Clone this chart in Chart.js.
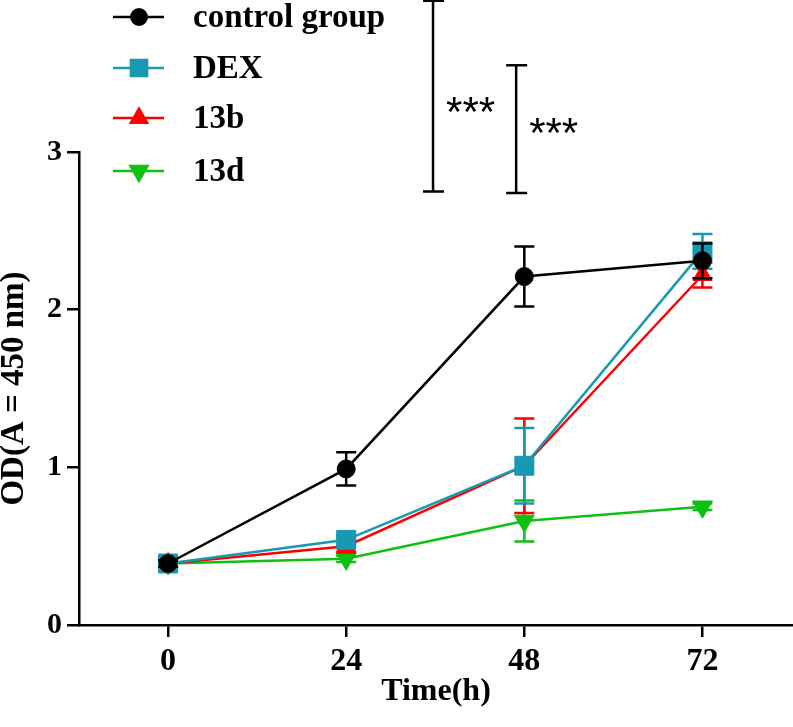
<!DOCTYPE html>
<html>
<head>
<meta charset="utf-8">
<script src="https://cdn.jsdelivr.net/npm/chart.js@4.4.1/dist/chart.umd.min.js"></script>
<style>
  html, body { margin: 0; padding: 0; background: #fff; }
</style>
</head>
<body>
<canvas id="odChart" width="793" height="727"></canvas>
<script>
const hours = [0, 24, 48, 72];
const xTicks = [0, 24, 48, 72];
const yTicks = [0, 1, 2, 3];
const seriesNames = ['control group', 'DEX', '13b', '13d'];

const controlOD = [0.39, 0.99, 2.21, 2.31];
const controlErr = [0.02, 0.105, 0.19, 0.11];
const dexOD = [0.39, 0.54, 1.01, 2.37];
const dexErr = [0.02, 0.03, 0.24, 0.11];
const b13OD = [0.39, 0.50, 1.01, 2.22];
const b13Err = [0.02, 0.04, 0.30, 0.08];
const d13OD = [0.39, 0.42, 0.66, 0.75];
const d13Err = [0.02, 0.02, 0.13, 0.02];

// significance brackets (x in hours, y in OD)
const sigX = [35.7, 46.9];
const sigLow = [2.75, 2.74];
const sigHigh = [3.96, 3.55];
const sigTextY = [3.165, 3.03];
const sigLabels = ['***', '***'];

const colors = ['#000000', '#1798b3', '#ff0000', '#10c010'];
const allVals = [controlOD, dexOD, b13OD, d13OD];
const allErrs = [controlErr, dexErr, b13Err, d13Err];
const markers = [
    { pointStyle: 'circle', radius: 9, rotation: 0 },
    { pointStyle: 'rect', radius: 13.4, rotation: 0 },
    { pointStyle: 'triangle', radius: 11, rotation: 0 },
    { pointStyle: 'triangle', radius: 11.5, rotation: 180 }
];

Chart.defaults.font.family = "'Liberation Serif', 'Times New Roman', serif";
Chart.defaults.font.weight = 'bold';
Chart.defaults.color = '#000';

function toPoints(vals) {
    return hours.map((h, i) => ({ x: h, y: vals[i] }));
}

// error bars drawn right after each dataset so stacking follows the datasets
const errorBars = {
    id: 'errorBars',
    afterDatasetDraw(chart, args) {
        const i = args.index;
        const { ctx, scales: { x, y } } = chart;
        ctx.save();
        ctx.strokeStyle = colors[i];
        ctx.lineWidth = 2.5;
        hours.forEach((h, k) => {
            const px = x.getPixelForValue(h);
            const top = y.getPixelForValue(allVals[i][k] + allErrs[i][k]);
            const bot = y.getPixelForValue(allVals[i][k] - allErrs[i][k]);
            ctx.beginPath();
            ctx.moveTo(px, top); ctx.lineTo(px, bot);
            ctx.moveTo(px - 10, top); ctx.lineTo(px + 10, top);
            ctx.moveTo(px - 10, bot); ctx.lineTo(px + 10, bot);
            ctx.stroke();
        });
        ctx.restore();
    }
};

// legend in the top-left corner: line + marker + label
const legendRows = {
    id: 'legendRows',
    afterDraw(chart) {
        const ctx = chart.ctx;
        const rowY = [17, 68, 118, 171];
        ctx.save();
        seriesNames.forEach((name, i) => {
            const y = rowY[i];
            ctx.strokeStyle = colors[i];
            ctx.fillStyle = colors[i];
            ctx.lineWidth = 2.5;
            ctx.beginPath();
            ctx.moveTo(113, y);
            ctx.lineTo(164, y);
            ctx.stroke();
            const m = markers[i];
            Chart.helpers.drawPoint(ctx, {
                pointStyle: m.pointStyle,
                radius: m.radius * 0.85,
                rotation: m.rotation,
                borderWidth: 1
            }, 139, y);
            ctx.fillStyle = '#000';
            ctx.font = "bold 33px 'Liberation Serif', 'Times New Roman', serif";
            ctx.textBaseline = 'alphabetic';
            ctx.textAlign = 'left';
            ctx.fillText(name, 193, y + 10);
        });
        ctx.restore();
    }
};

// significance brackets above the plot
const sigBrackets = {
    id: 'sigBrackets',
    afterDraw(chart) {
        const { ctx, scales: { x, y } } = chart;
        ctx.save();
        ctx.strokeStyle = '#000';
        ctx.fillStyle = '#000';
        ctx.lineWidth = 2.5;
        sigX.forEach((sx, i) => {
            const px = x.getPixelForValue(sx);
            const top = y.getPixelForValue(sigHigh[i]);
            const bot = y.getPixelForValue(sigLow[i]);
            ctx.beginPath();
            ctx.moveTo(px, top); ctx.lineTo(px, bot);
            ctx.moveTo(px - 10, top); ctx.lineTo(px + 11, top);
            ctx.moveTo(px - 10, bot); ctx.lineTo(px + 11, bot);
            ctx.stroke();
            ctx.font = "42px 'Liberation Sans', Arial, sans-serif";
            ctx.textBaseline = 'alphabetic';
            ctx.textAlign = 'left';
            ctx.fillText(sigLabels[i], px + 13, y.getPixelForValue(sigTextY[i]));
        });
        ctx.restore();
    }
};

new Chart(document.getElementById('odChart'), {
    type: 'line',
    data: {
        datasets: seriesNames.map((name, i) => ({
            label: name,
            data: toPoints(allVals[i]),
            borderColor: colors[i],
            backgroundColor: colors[i],
            borderWidth: 2.5,
            pointStyle: markers[i].pointStyle,
            pointRadius: markers[i].radius,
            pointRotation: markers[i].rotation,
            pointBorderWidth: 1,
            tension: 0
        }))
    },
    options: {
        responsive: false,
        animation: false,
        devicePixelRatio: 1,
        layout: { autoPadding: false, padding: { top: 152, right: 0, left: 0, bottom: 0 } },
        plugins: {
            legend: { display: false },
            tooltip: { enabled: false }
        },
        scales: {
            x: {
                type: 'linear',
                min: -12,
                max: 84.2,
                afterBuildTicks: s => { s.ticks = xTicks.map(v => ({ value: v })); },
                afterFit: s => { s.height = 102; s.paddingLeft = 0; s.paddingRight = 0; },
                border: { color: '#000', width: 2.5 },
                grid: { drawOnChartArea: false, color: '#000', lineWidth: 2.5, tickLength: 12 },
                ticks: { color: '#000', font: { size: 32, weight: 'bold' }, padding: 6, maxRotation: 0 },
                title: {
                    display: true, text: 'Time(h)', color: '#000',
                    font: { size: 32, weight: 'bold' }, padding: { top: 0, bottom: 16 }
                }
            },
            y: {
                min: 0,
                max: 3,
                afterBuildTicks: s => { s.ticks = yTicks.map(v => ({ value: v })); },
                afterFit: s => { s.width = 79; s.paddingTop = 0; s.paddingBottom = 0; },
                border: { color: '#000', width: 2.5 },
                grid: { drawOnChartArea: false, color: '#000', lineWidth: 2.5, tickLength: 12 },
                ticks: { color: '#000', font: { size: 30, weight: 'bold' }, padding: 5 },
                title: {
                    display: true, text: 'OD(A = 450 nm)', color: '#000',
                    font: { size: 33, weight: 'bold', lineHeight: 0.85 }, padding: 0
                }
            }
        }
    },
    plugins: [errorBars, legendRows, sigBrackets]
});
</script>
</body>
</html>
